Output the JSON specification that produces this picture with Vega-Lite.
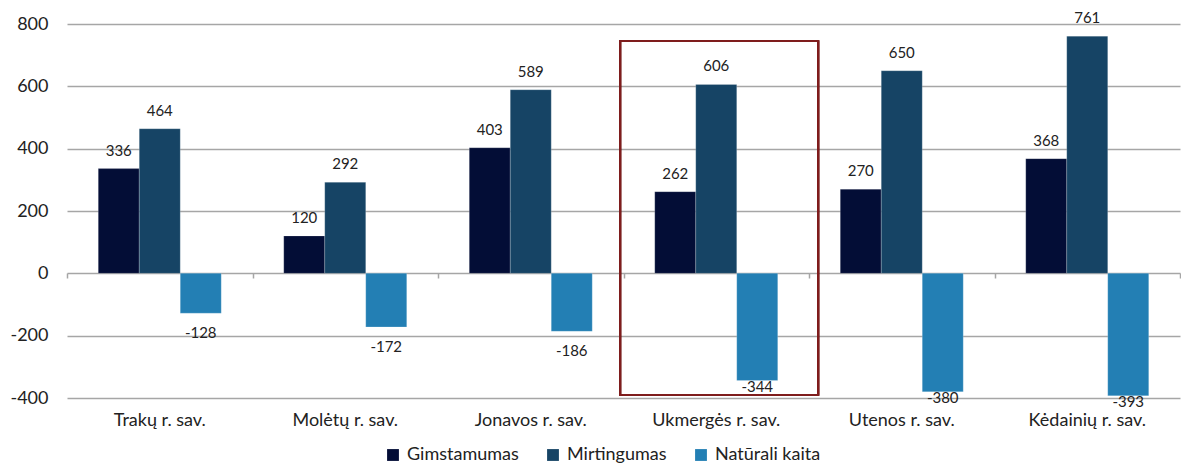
{
  "$schema": "https://vega.github.io/schema/vega-lite/v6.json",
  "autosize": "none",
  "width": 1113,
  "height": 374,
  "padding": {"left": 67, "top": 24, "right": 1, "bottom": 68},
  "background": "white",
  "config": {
    "font": "Lato",
    "view": {"stroke": null},
    "axis": {"labelFont": "Lato", "labelColor": "#222222"},
    "locale": {
      "number": {"decimal": ".", "thousands": ",", "grouping": [3], "currency": ["", ""], "minus": "-"}
    }
  },
  "data": {
    "values": [
      {"sav": "Trakų r. sav.", "rodiklis": "Gimstamumas", "reiksme": 336},
      {"sav": "Trakų r. sav.", "rodiklis": "Mirtingumas", "reiksme": 464},
      {"sav": "Trakų r. sav.", "rodiklis": "Natūrali kaita", "reiksme": -128},
      {"sav": "Molėtų r. sav.", "rodiklis": "Gimstamumas", "reiksme": 120},
      {"sav": "Molėtų r. sav.", "rodiklis": "Mirtingumas", "reiksme": 292},
      {"sav": "Molėtų r. sav.", "rodiklis": "Natūrali kaita", "reiksme": -172},
      {"sav": "Jonavos r. sav.", "rodiklis": "Gimstamumas", "reiksme": 403},
      {"sav": "Jonavos r. sav.", "rodiklis": "Mirtingumas", "reiksme": 589},
      {"sav": "Jonavos r. sav.", "rodiklis": "Natūrali kaita", "reiksme": -186},
      {"sav": "Ukmergės r. sav.", "rodiklis": "Gimstamumas", "reiksme": 262},
      {"sav": "Ukmergės r. sav.", "rodiklis": "Mirtingumas", "reiksme": 606},
      {"sav": "Ukmergės r. sav.", "rodiklis": "Natūrali kaita", "reiksme": -344},
      {"sav": "Utenos r. sav.", "rodiklis": "Gimstamumas", "reiksme": 270},
      {"sav": "Utenos r. sav.", "rodiklis": "Mirtingumas", "reiksme": 650},
      {"sav": "Utenos r. sav.", "rodiklis": "Natūrali kaita", "reiksme": -380},
      {"sav": "Kėdainių r. sav.", "rodiklis": "Gimstamumas", "reiksme": 368},
      {"sav": "Kėdainių r. sav.", "rodiklis": "Mirtingumas", "reiksme": 761},
      {"sav": "Kėdainių r. sav.", "rodiklis": "Natūrali kaita", "reiksme": -393}
    ]
  },
  "encoding": {
    "y": {
      "field": "reiksme",
      "type": "quantitative",
      "scale": {"domain": [-400, 800], "nice": false, "zero": false},
      "axis": {
        "title": null,
        "values": [-400, -200, 0, 200, 400, 600, 800],
        "labelFontSize": 18,
        "labelPadding": 19,
        "ticks": false,
        "domain": false,
        "gridColor": "#a6a6a6",
        "gridWidth": 1.5
      }
    }
  },
  "resolve": {"axis": {"x": "independent"}, "scale": {"x": "independent"}},
  "layer": [
    {
      "encoding": {
        "x": {
          "field": "sav",
          "type": "nominal",
          "sort": null,
          "scale": {"paddingInner": 0.337, "paddingOuter": 0.1685},
          "axis": {
            "title": null,
            "labelAngle": 0,
            "labelFontSize": 18,
            "labelPadding": 13,
            "ticks": false,
            "domain": false,
            "grid": false
          }
        },
        "xOffset": {
          "field": "rodiklis",
          "type": "nominal",
          "sort": ["Gimstamumas", "Mirtingumas", "Natūrali kaita"],
          "scale": {"paddingInner": 0, "paddingOuter": 0}
        }
      },
      "layer": [
        {
          "mark": {"type": "bar", "stroke": "#ffffff", "strokeWidth": 0.4, "strokeOpacity": 0.5},
          "encoding": {
            "color": {
              "field": "rodiklis",
              "type": "nominal",
              "sort": ["Gimstamumas", "Mirtingumas", "Natūrali kaita"],
              "scale": {
                "domain": ["Gimstamumas", "Mirtingumas", "Natūrali kaita"],
                "range": ["#030d36", "#164465", "#237fb4"]
              },
              "legend": {
                "title": null,
                "orient": "none",
                "direction": "horizontal",
                "legendX": 317,
                "legendY": 422,
                "symbolType": "square",
                "symbolSize": 140,
                "symbolStrokeWidth": 0,
                "labelFont": "Lato",
                "labelFontSize": 18,
                "labelColor": "#222222",
                "labelOffset": 5,
                "columnPadding": 25
              }
            }
          }
        },
        {
          "transform": [{"filter": "datum.reiksme > 0"}],
          "mark": {"type": "text", "dy": -18, "baseline": "middle", "fontSize": 15, "color": "#222222"},
          "encoding": {"text": {"field": "reiksme", "type": "quantitative"}}
        },
        {
          "transform": [{"filter": "datum.reiksme < 0 && datum.reiksme > -300"}],
          "mark": {"type": "text", "dy": 20, "baseline": "middle", "fontSize": 15, "color": "#222222"},
          "encoding": {"text": {"field": "reiksme", "type": "quantitative"}}
        },
        {
          "transform": [{"filter": "datum.reiksme <= -300"}],
          "mark": {"type": "text", "dy": 6, "baseline": "middle", "fontSize": 15, "color": "#222222"},
          "encoding": {"text": {"field": "reiksme", "type": "quantitative"}}
        },
        {
          "mark": {"type": "bar", "fill": null, "filled": false, "stroke": "#7f1d1d", "strokeWidth": 1.6, "width": {"band": 1.61}, "xOffset": 3},
          "encoding": {
            "x": {"datum": "Ukmergės r. sav.", "type": "nominal"},
            "xOffset": null,
            "y": {"datum": 745, "type": "quantitative"},
            "y2": {"datum": -390}
          }
        }
      ]
    },
    {
      "mark": {"type": "tick", "opacity": 0},
      "encoding": {
        "x": {
          "field": "sav",
          "type": "nominal",
          "sort": null,
          "scale": {"paddingInner": 0, "paddingOuter": 0},
          "axis": {
            "orient": "bottom",
            "title": null,
            "labels": false,
            "domain": false,
            "grid": false,
            "ticks": true,
            "tickBand": "extent",
            "tickSize": 5,
            "tickColor": "#a6a6a6",
            "tickWidth": 1.5,
            "offset": -125
          }
        }
      }
    }
  ]
}
